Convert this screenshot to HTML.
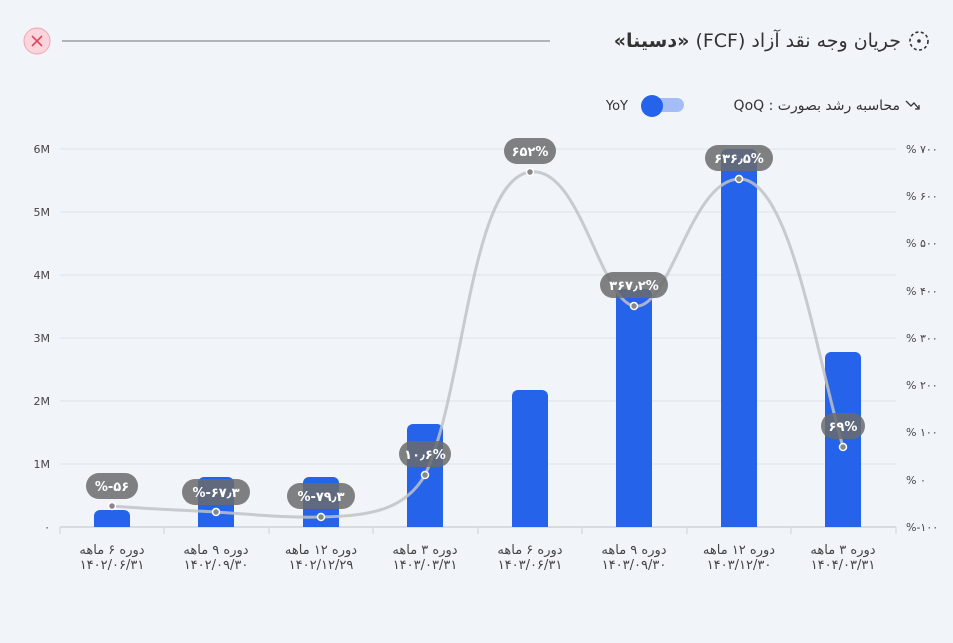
<!DOCTYPE html><html><head><meta charset="utf-8"><style>
body{margin:0;width:953px;height:643px;background:#f1f5fa;font-family:"DejaVu Sans","Liberation Sans",sans-serif;overflow:hidden;position:relative}
.t{position:absolute;white-space:nowrap;direction:rtl;color:#333}
</style></head><body>
<svg width="953" height="643" xmlns="http://www.w3.org/2000/svg" font-family="DejaVu Sans, Liberation Sans, sans-serif" style="position:absolute;left:0;top:0">
<rect width="953" height="643" fill="#f1f5fa"/>
<circle cx="37" cy="41" r="13" fill="#fbd5dc" stroke="#f3a3b1"/>
<path d="M32 36l10 10M42 36l-10 10" stroke="#e0455e" stroke-width="1.6"/>
<line x1="62" y1="41" x2="550" y2="41" stroke="#9aa0a8" stroke-width="1.5"/>
<circle cx="919" cy="41" r="9" fill="none" stroke="#333" stroke-width="1.6" stroke-dasharray="3 2.5"/><circle cx="919" cy="41" r="1.8" fill="#333"/>
<path d="M906 101l5 5 3-3 5 6M915 109h4v-4" fill="none" stroke="#333" stroke-width="1.3"/>
<rect x="642" y="98" width="42" height="14" rx="7" fill="#a4bdf5"/>
<circle cx="652" cy="106" r="11" fill="#2563eb"/>
<text x="628" y="110" text-anchor="end" font-size="13" fill="#333">YoY</text>
<g stroke="#dde2e8" stroke-width="1">
<line x1="60" y1="149" x2="896" y2="149"/><line x1="60" y1="212" x2="896" y2="212"/><line x1="60" y1="275" x2="896" y2="275"/><line x1="60" y1="338" x2="896" y2="338"/><line x1="60" y1="401" x2="896" y2="401"/><line x1="60" y1="464" x2="896" y2="464"/>
</g>
<line x1="60" y1="527" x2="896" y2="527" stroke="#cfd4da" stroke-width="1.5"/>
<g stroke="#cfd4da"><line x1="60" y1="527" x2="60" y2="534"/><line x1="164" y1="527" x2="164" y2="534"/><line x1="269" y1="527" x2="269" y2="534"/><line x1="373" y1="527" x2="373" y2="534"/><line x1="478" y1="527" x2="478" y2="534"/><line x1="582" y1="527" x2="582" y2="534"/><line x1="687" y1="527" x2="687" y2="534"/><line x1="791" y1="527" x2="791" y2="534"/><line x1="896" y1="527" x2="896" y2="534"/></g>
<g font-size="11" fill="#444" text-anchor="end">
<text x="50" y="153">6M</text><text x="50" y="216">5M</text><text x="50" y="279">4M</text><text x="50" y="342">3M</text><text x="50" y="405">2M</text><text x="50" y="468">1M</text><text x="50" y="531">۰</text></g>
<g font-size="11" fill="#444" text-anchor="start">
<text x="906" y="153">% ۷۰۰</text><text x="906" y="200">% ۶۰۰</text><text x="906" y="247">% ۵۰۰</text><text x="906" y="295">% ۴۰۰</text><text x="906" y="342">% ۳۰۰</text><text x="906" y="389">% ۲۰۰</text><text x="906" y="436">% ۱۰۰</text><text x="906" y="484">% ۰</text><text x="906" y="531">%-۱۰۰</text></g>
<g fill="#2563eb">
<path d="M94 527V516a6 6 0 0 1 6-6h24a6 6 0 0 1 6 6V527z"/>
<path d="M198 527V483a6 6 0 0 1 6-6h24a6 6 0 0 1 6 6V527z"/>
<path d="M303 527V483a6 6 0 0 1 6-6h24a6 6 0 0 1 6 6V527z"/>
<path d="M407 527V430a6 6 0 0 1 6-6h24a6 6 0 0 1 6 6V527z"/>
<path d="M512 527V396a6 6 0 0 1 6-6h24a6 6 0 0 1 6 6V527z"/>
<path d="M616 527V295a6 6 0 0 1 6-6h24a6 6 0 0 1 6 6V527z"/>
<path d="M721 527V155a6 6 0 0 1 6-6h24a6 6 0 0 1 6 6V527z"/>
<path d="M825 527V358a6 6 0 0 1 6-6h24a6 6 0 0 1 6 6V527z"/>
</g>
<path d="M112 506C150 509 180 510 216 512C260 515 290 518 321 517C370 516 405 510 425 475C465 390 470 180 530 172C580 165 600 300 634 306C670 312 690 180 739 179C790 178 815 350 843 447" fill="none" stroke="#bfc2c6" stroke-width="3" opacity="0.85"/>
<g fill="#888" stroke="#fff" stroke-width="1.5">
<circle cx="112" cy="506" r="3.5"/><circle cx="216" cy="512" r="3.5"/><circle cx="321" cy="517" r="3.5"/><circle cx="425" cy="475" r="3.5"/><circle cx="530" cy="172" r="3.5"/><circle cx="634" cy="306" r="3.5"/><circle cx="739" cy="179" r="3.5"/><circle cx="843" cy="447" r="3.5"/></g>
<g fill="#6b6b6b" opacity="0.85">
<rect x="86" y="473" width="52" height="26" rx="13"/><rect x="182" y="479" width="68" height="26" rx="13"/><rect x="287" y="483" width="68" height="26" rx="13"/><rect x="399" y="441" width="52" height="26" rx="13"/><rect x="504" y="138" width="52" height="26" rx="13"/><rect x="600" y="272" width="68" height="26" rx="13"/><rect x="705" y="145" width="68" height="26" rx="13"/><rect x="821" y="413" width="44" height="26" rx="13"/></g>
<g font-size="13" font-weight="bold" fill="#fff" text-anchor="middle">
<text x="112" y="491">%-۵۶</text><text x="216" y="497">%-۶۷٫۳</text><text x="321" y="501">%-۷۹٫۳</text><text x="425" y="459">۱۰٫۶%</text><text x="530" y="156">۶۵۲%</text><text x="634" y="290">۳۶۷٫۲%</text><text x="739" y="163">۶۳۶٫۵%</text><text x="843" y="431">۶۹%</text></g>
<g font-size="13" fill="#444" text-anchor="middle">
<text x="112" y="554">دوره ۶ ماهه</text><text x="112" y="569">۱۴۰۲/۰۶/۳۱</text>
<text x="216" y="554">دوره ۹ ماهه</text><text x="216" y="569">۱۴۰۲/۰۹/۳۰</text>
<text x="321" y="554">دوره ۱۲ ماهه</text><text x="321" y="569">۱۴۰۲/۱۲/۲۹</text>
<text x="425" y="554">دوره ۳ ماهه</text><text x="425" y="569">۱۴۰۳/۰۳/۳۱</text>
<text x="530" y="554">دوره ۶ ماهه</text><text x="530" y="569">۱۴۰۳/۰۶/۳۱</text>
<text x="634" y="554">دوره ۹ ماهه</text><text x="634" y="569">۱۴۰۳/۰۹/۳۰</text>
<text x="739" y="554">دوره ۱۲ ماهه</text><text x="739" y="569">۱۴۰۳/۱۲/۳۰</text>
<text x="843" y="554">دوره ۳ ماهه</text><text x="843" y="569">۱۴۰۴/۰۳/۳۱</text></g>
</svg>
<div class="t" style="right:52px;top:28px;font-size:19px;line-height:26px">جریان وجه نقد آزاد (FCF) <b>«دسینا»</b></div>
<div class="t" style="right:53px;top:96px;font-size:14px;line-height:20px">محاسبه رشد بصورت : QoQ</div>
</body></html>
